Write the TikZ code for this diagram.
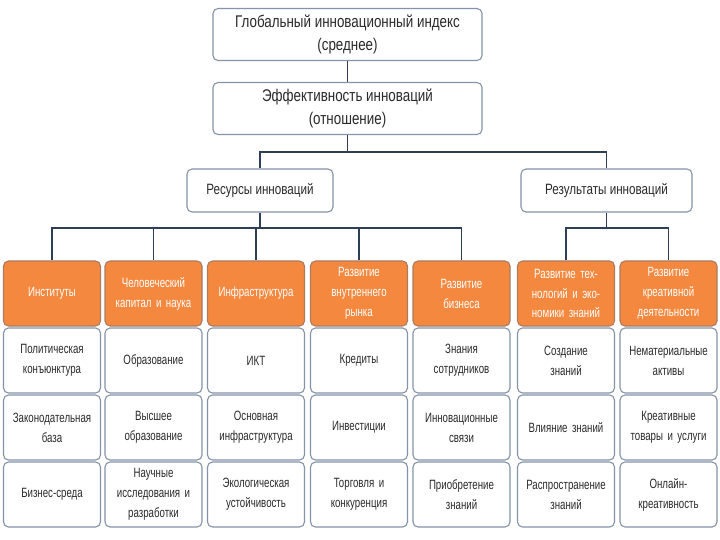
\documentclass[tikz,border=0pt]{standalone}
\usepackage{fontspec}
\setmainfont{Liberation Sans}
\newfontfamily\cellfont{Liberation Sans}[FakeStretch=0.72]
\newfontfamily\midfont{Liberation Sans}[FakeStretch=0.78]
\newfontfamily\titlefont{Liberation Sans}[FakeStretch=0.79]
\definecolor{bordc}{HTML}{8593A8}
\definecolor{connc}{HTML}{2E3E55}
\definecolor{orangec}{HTML}{F5883F}
\definecolor{txtc}{HTML}{2A2A2A}
\tikzset{
  box/.style={draw=bordc, line width=1.1bp, rounded corners=5bp, fill=white, align=center, text=txtc, inner sep=2bp},
  topbox/.style={box, minimum width=269bp, minimum height=52bp, font=\titlefont\fontsize{17}{24}\selectfont},
  midbox/.style={box, minimum height=43bp, font=\midfont\fontsize{15}{20}\selectfont},
  cell/.style={box, minimum width=97bp, minimum height=65bp, text width=93bp, font=\cellfont\fontsize{13.5}{20}\selectfont},
  ocell/.style={cell, fill=orangec, draw=orangec!80!black!60!bordc, text=white},
  conn/.style={draw=connc, line width=1.6bp}
}
\begin{document}
\begin{tikzpicture}[x=1bp, y=-1bp]
\fill[white] (0,0) rectangle (720,540);
\useasboundingbox (0,0) rectangle (720,540);

\node[topbox] (gii) at (347.5,34.5) {Глобальный инновационный индекс\\(среднее)};
\node[topbox] (eff) at (347.5,108.5) {Эффективность инноваций\\(отношение)};
\node[midbox, minimum width=146bp] (res) at (260,190.5) {Ресурсы инноваций};
\node[midbox, minimum width=171bp] (out) at (606.5,190.5) {Результаты инноваций};

% orange header row
\node[ocell] (o1) at (52,293.5) {Институты};
\node[ocell] (o2) at (153.5,293.5) {Человеческий\\капитал и наука};
\node[ocell] (o3) at (256,293.5) {Инфраструктура};
\node[ocell] (o4) at (359,293.5) {Развитие\\внутреннего\\рынка};
\node[ocell] (o5) at (461.5,293.5) {Развитие\\бизнеса};
\node[ocell] (o6) at (566,293.5) {Развитие тех-\\нологий и эко-\\номики знаний};
\node[ocell] (o7) at (668.5,293.5) {Развитие\\креативной\\деятельности};

% row 1
\node[cell] (a1) at (52,360.5) {Политическая\\конъюнктура};
\node[cell] (a2) at (153.5,360.5) {Образование};
\node[cell] (a3) at (256,360.5) {ИКТ};
\node[cell] (a4) at (359,360.5) {Кредиты};
\node[cell] (a5) at (461.5,360.5) {Знания\\сотрудников};
\node[cell] (a6) at (566,360.5) {Создание\\знаний};
\node[cell] (a7) at (668.5,360.5) {Нематериальные\\активы};

% row 2
\node[cell] (b1) at (52,427.5) {Законодательная\\база};
\node[cell] (b2) at (153.5,427.5) {Высшее\\образование};
\node[cell] (b3) at (256,427.5) {Основная\\инфраструктура};
\node[cell] (b4) at (359,427.5) {Инвестиции};
\node[cell] (b5) at (461.5,427.5) {Инновационные\\связи};
\node[cell] (b6) at (566,427.5) {Влияние знаний};
\node[cell] (b7) at (668.5,427.5) {Креативные\\товары и услуги};

% row 3
\node[cell] (c1) at (52,494.5) {Бизнес-среда};
\node[cell] (c2) at (153.5,494.5) {Научные\\исследования и\\разработки};
\node[cell] (c3) at (256,494.5) {Экологическая\\устойчивость};
\node[cell] (c4) at (359,494.5) {Торговля и\\конкуренция};
\node[cell] (c5) at (461.5,494.5) {Приобретение\\знаний};
\node[cell] (c6) at (566,494.5) {Распространение\\знаний};
\node[cell] (c7) at (668.5,494.5) {Онлайн-\\креативность};

% connectors
\coordinate (tb) at (347.5,152);
\coordinate (rb) at (260,228);
\coordinate (ob) at (606.5,228);
\draw[conn] (gii) -- (eff);
\draw[conn] (eff.south) -- (tb);
\draw[conn] (res.north) |- (tb) -| (out.north);
\draw[conn] (res.south) -- (rb);
\draw[conn] (o1.north) |- (rb) -| (o5.north);
\draw[conn] (o2.north) -- (o2.north |- rb);
\draw[conn] (o3.north) -- (o3.north |- rb);
\draw[conn] (o4.north) -- (o4.north |- rb);
\draw[conn] (out.south) -- (ob);
\draw[conn] (o6.north) |- (ob) -| (o7.north);
\end{tikzpicture}
\end{document}
